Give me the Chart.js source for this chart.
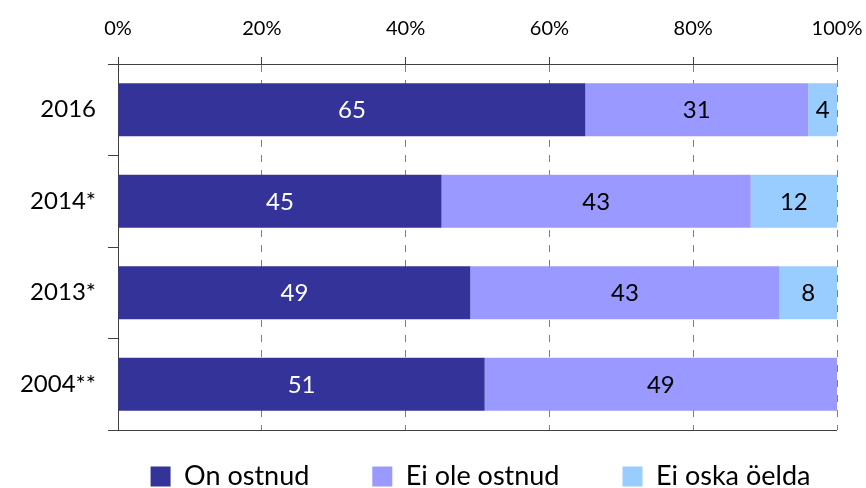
<!DOCTYPE html>
<html>
<head>
<meta charset="utf-8">
<script src="https://cdn.jsdelivr.net/npm/chart.js@4/dist/chart.umd.min.js"></script>
<style>
  html, body { margin: 0; padding: 0; background: #ffffff; }
  #wrap { width: 866px; height: 488px; }
</style>
</head>
<body>
<div id="wrap"><canvas id="c" width="866" height="488"></canvas></div>
<script>
// Survey years (top to bottom) and answer shares, per cent
const years = ['2016', '2014*', '2013*', '2004**'];
const onOstnud = [65, 45, 49, 51];
const eiOleOstnud = [31, 43, 43, 49];
const eiOskaOelda = [4, 12, 8, 0];
const seriesNames = ['On ostnud', 'Ei ole ostnud', 'Ei oska öelda'];
const percentTicks = [0, 20, 40, 60, 80, 100];

const FONT = 'Lato, "Open Sans", sans-serif';
const AXIS_COLOR = '#404040';
const GRID_COLOR = '#808080';
const LEGEND_GAP = 63;
const LEGEND_FONT = 27;
const LEGEND_BOX = 20;

// Writes each segment's value in the middle of its bar
const valueLabels = {
  id: 'valueLabels',
  afterDatasetsDraw(chart) {
    const ctx = chart.ctx;
    chart.data.datasets.forEach((ds, i) => {
      const meta = chart.getDatasetMeta(i);
      if (meta.hidden) return;
      meta.data.forEach((bar, j) => {
        const v = ds.data[j];
        if (!v) return;
        const p = bar.getProps(['x', 'y', 'base'], true);
        ctx.save();
        ctx.font = '24px ' + FONT;
        ctx.fillStyle = ds.labelColor;
        ctx.textAlign = 'center';
        ctx.textBaseline = 'middle';
        ctx.fillText(String(v), (p.x + p.base) / 2, p.y + 1);
        ctx.restore();
      });
    });
  }
};

// Re-seat the legend box: centred under the plot, its row sitting near the canvas bottom
const legendPlacement = {
  id: 'legendPlacement',
  afterLayout(chart) {
    const lg = chart.legend;
    if (!lg) return;
    const area = chart.chartArea;
    const dx = (area.left + area.right) / 2 + 3 - (lg.left + lg.right) / 2;
    lg.left += dx;
    lg.right += dx;
    lg.top = 466.5 - (LEGEND_FONT - LEGEND_BOX) / 2 - LEGEND_GAP;
    lg.bottom = chart.height;
    lg.height = lg.bottom - lg.top;
  }
};

new Chart(document.getElementById('c'), {
  type: 'bar',
  data: {
    labels: years,
    datasets: [
      { label: seriesNames[0], data: onOstnud, backgroundColor: '#333399', labelColor: '#ffffff' },
      { label: seriesNames[1], data: eiOleOstnud, backgroundColor: '#9999ff', labelColor: '#000000' },
      { label: seriesNames[2], data: eiOskaOelda, backgroundColor: '#99ccff', labelColor: '#000000' }
    ]
  },
  options: {
    indexAxis: 'y',
    responsive: false,
    animation: false,
    events: [],
    layout: { padding: { left: 0, right: 29, top: 0, bottom: 0 } },
    datasets: {
      bar: { categoryPercentage: 1, barPercentage: 0.58, borderWidth: 0 }
    },
    scales: {
      x: {
        position: 'top',
        stacked: true,
        min: 0,
        max: 100,
        afterBuildTicks(scale) {
          scale.ticks = percentTicks.map(v => ({ value: v }));
        },
        afterFit(scale) {
          scale.height = 64;
          scale.paddingLeft = 0;
          scale.paddingRight = 0;
        },
        ticks: {
          callback: v => v + '%',
          font: { family: FONT, size: 20 },
          color: '#000000',
          padding: 16,
          maxRotation: 0
        },
        grid: {
          color: GRID_COLOR,
          lineWidth: 1,
          tickLength: 7,
          tickColor: AXIS_COLOR,
          tickBorderDash: []
        },
        // dash here applies to the vertical grid lines; the axis line stays solid
        border: { display: true, color: AXIS_COLOR, width: 1, dash: [7, 8] }
      },
      y: {
        stacked: true,
        offset: true,
        afterFit(scale) { scale.width = 118; },
        ticks: {
          font: { family: FONT, size: 24 },
          color: '#000000',
          padding: 12
        },
        grid: {
          offset: true,
          // only the closing boundary line runs across the plot; the rest are edge ticks
          color: ctx => ctx.type === 'tick' ? 'rgba(0,0,0,0)' : AXIS_COLOR,
          lineWidth: 1,
          tickLength: 10,
          tickColor: AXIS_COLOR
        },
        border: { display: true, color: AXIS_COLOR, width: 1 }
      }
    },
    plugins: {
      legend: {
        position: 'bottom',
        fullSize: true,
        maxHeight: 58,
        labels: {
          font: { family: FONT, size: LEGEND_FONT },
          color: '#000000',
          boxWidth: LEGEND_BOX,
          boxHeight: LEGEND_BOX,
          padding: LEGEND_GAP
        }
      },
      tooltip: { enabled: false }
    }
  },
  plugins: [valueLabels, legendPlacement]
});
</script>
</body>
</html>
